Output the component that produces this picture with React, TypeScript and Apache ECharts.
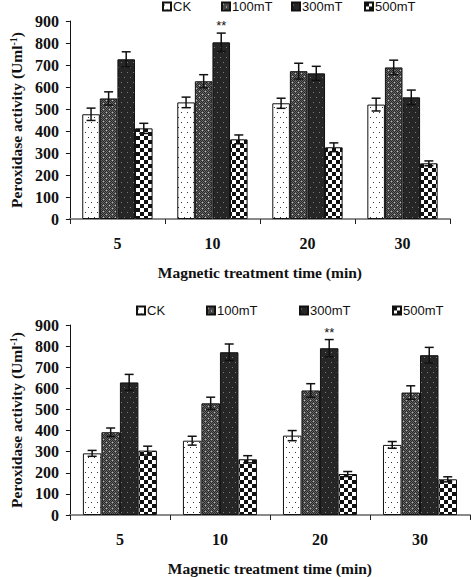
import React, { useEffect, useRef } from "react";
import * as echarts from "echarts";

const categories = ["5", "10", "20", "30"];
const seriesNames = ["CK", "100mT", "300mT", "500mT"];

// Top chart values
const top_CK = [476, 530, 526, 520];
const top_100 = [548, 626, 672, 689];
const top_300 = [726, 803, 662, 553];
const top_500 = [412, 362, 326, 253];
const topErr_CK = [28, 24, 23, 29];
const topErr_100 = [30, 30, 36, 33];
const topErr_300 = [34, 42, 32, 33];
const topErr_500 = [23, 20, 20, 11];
const topSig_300 = ["", "**", "", ""];

// Bottom chart values
const bot_CK = [292, 352, 376, 332];
const bot_100 = [392, 529, 590, 580];
const bot_300 = [628, 771, 790, 757];
const bot_500 = [305, 264, 194, 169];
const botErr_CK = [14, 21, 24, 16];
const botErr_100 = [20, 29, 32, 32];
const botErr_300 = [38, 39, 41, 37];
const botErr_500 = [21, 17, 12, 12];
const botSig_300 = ["", "", "**", ""];

const SERIF = "'Liberation Serif', 'Times New Roman', serif";
const SANS = "'Liberation Sans', Arial, sans-serif";
const GAP = 0.26;

function makeCanvas(w: number, h: number, draw: (ctx: CanvasRenderingContext2D) => void) {
  const c = document.createElement("canvas");
  c.width = w;
  c.height = h;
  const ctx = c.getContext("2d")!;
  draw(ctx);
  return c;
}

function makePatterns() {
  const ck = makeCanvas(6, 10, (ctx) => {
    ctx.fillStyle = "#ffffff";
    ctx.fillRect(0, 0, 6, 10);
    ctx.fillStyle = "#333333";
    ctx.fillRect(1, 2, 1, 1);
    ctx.fillRect(4, 7, 1, 1);
  });
  const p100 = makeCanvas(6, 6, (ctx) => {
    for (let y = 0; y < 6; y++)
      for (let x = 0; x < 6; x++) {
        ctx.fillStyle = (x + y) % 2 === 0 ? "#2a2a2a" : "#646464";
        ctx.fillRect(x, y, 1, 1);
      }
    ctx.fillStyle = "#bdbdbd";
    ctx.fillRect(1, 1, 1, 1);
    ctx.fillRect(4, 4, 1, 1);
  });
  const p300 = makeCanvas(6, 10, (ctx) => {
    ctx.fillStyle = "#262626";
    ctx.fillRect(0, 0, 6, 10);
    ctx.fillStyle = "#7a7a7a";
    ctx.fillRect(1, 2, 1, 1);
    ctx.fillRect(4, 7, 1, 1);
  });
  const p500 = makeCanvas(8, 8, (ctx) => {
    ctx.fillStyle = "#ffffff";
    ctx.fillRect(0, 0, 8, 8);
    ctx.fillStyle = "#111111";
    ctx.fillRect(0, 0, 4, 4);
    ctx.fillRect(4, 4, 4, 4);
  });
  return [ck, p100, p300, p500].map((img) => ({ image: img, repeat: "repeat" as const }));
}

function makeErrRender(seriesIdx: number, sig: string[]) {
  return (params: any, api: any) => {
    const x = api.value(0);
    const v = api.value(1);
    const e = api.value(2);
    const c = api.coord([x, v]);
    const band = api.size([1, 0])[0];
    const barW = (band * (1 - GAP)) / 4;
    const cx = c[0] + (seriesIdx - 1.5) * barW;
    const yTop = api.coord([x, v + e])[1];
    const yBot = api.coord([x, v - e])[1];
    const half = 4.5;
    const st = { stroke: "#111", lineWidth: 1.5 };
    const children: any[] = [
      { type: "line", shape: { x1: cx, y1: yTop, x2: cx, y2: yBot }, style: st },
      { type: "line", shape: { x1: cx - half, y1: yTop, x2: cx + half, y2: yTop }, style: st },
      { type: "line", shape: { x1: cx - half, y1: yBot, x2: cx + half, y2: yBot }, style: st },
    ];
    const s = sig[params.dataIndex];
    if (s) {
      children.push({
        type: "text",
        style: {
          text: s,
          x: cx,
          y: yTop - 1,
          align: "center",
          verticalAlign: "bottom",
          font: `13px ${SANS}`,
          fill: "#111",
        },
      });
    }
    return { type: "group", children };
  };
}

export default function App() {
  const ref = useRef<HTMLDivElement>(null);

  useEffect(() => {
    if (!ref.current) return;
    const chart = echarts.init(ref.current, undefined, { renderer: "svg" });
    const patterns = makePatterns();

    const grids = [
      { left: 64, top: 21, width: 386, height: 198 },
      { left: 65, top: 325, width: 405, height: 190 },
    ];

    const xAxis = grids.map((_, gi) => ({
      type: "category",
      gridIndex: gi,
      data: categories,
      axisLine: { lineStyle: { color: "#8a8a8a", width: 2 } },
      axisTick: { show: true, length: 5, lineStyle: { color: "#222", width: 1 } },
      axisLabel: {
        fontFamily: SERIF,
        fontWeight: "bold",
        fontSize: 16,
        color: "#111",
        margin: 16,
      },
      name: "Magnetic treatment time (min)",
      nameLocation: "middle",
      nameGap: 45,
      nameTextStyle: { fontFamily: SERIF, fontWeight: "bold", fontSize: 15.5, color: "#111" },
    }));

    const yAxis = grids.map((_, gi) => ({
      type: "value",
      gridIndex: gi,
      min: 0,
      max: 900,
      interval: 100,
      axisLine: { show: true, lineStyle: { color: "#111", width: 1 } },
      axisTick: { show: true, length: 4, lineStyle: { color: "#111" } },
      splitLine: { show: false },
      axisLabel: {
        fontFamily: SERIF,
        fontWeight: "bold",
        fontSize: 16,
        color: "#111",
        margin: 11,
      },
      name: "Peroxidase activity (Uml{sup|-1})",
      nameLocation: "middle",
      nameRotate: 90,
      nameGap: 45,
      nameTextStyle: {
        fontFamily: SERIF,
        fontWeight: "bold",
        fontSize: 15.5,
        color: "#111",
        rich: {
          sup: {
            fontFamily: SERIF,
            fontWeight: "bold",
            fontSize: 10,
            color: "#111",
            verticalAlign: "top",
          },
        },
      },
    }));

    const chartData = [
      {
        vals: [top_CK, top_100, top_300, top_500],
        errs: [topErr_CK, topErr_100, topErr_300, topErr_500],
        sigs: [["", "", "", ""], ["", "", "", ""], topSig_300, ["", "", "", ""]],
      },
      {
        vals: [bot_CK, bot_100, bot_300, bot_500],
        errs: [botErr_CK, botErr_100, botErr_300, botErr_500],
        sigs: [["", "", "", ""], ["", "", "", ""], botSig_300, ["", "", "", ""]],
      },
    ];

    const series: any[] = [];
    chartData.forEach((cd, gi) => {
      cd.vals.forEach((vals, si) => {
        series.push({
          type: "bar",
          name: seriesNames[si],
          xAxisIndex: gi,
          yAxisIndex: gi,
          data: vals,
          barGap: "0%",
          barCategoryGap: `${GAP * 100}%`,
          itemStyle: { color: patterns[si], borderColor: "#111", borderWidth: 1 },
          emphasis: { disabled: true },
        });
      });
      cd.vals.forEach((vals, si) => {
        series.push({
          type: "custom",
          name: `err-${gi}-${si}`,
          xAxisIndex: gi,
          yAxisIndex: gi,
          z: 5,
          renderItem: makeErrRender(si, cd.sigs[si]),
          encode: { x: 0, y: 1 },
          data: vals.map((v, i) => [i, v, cd.errs[si][i]]),
        });
      });
    });

    const legendLeftTop = [162, 221, 291, 364];
    const legendLeftBot = [136, 206, 299, 392];
    const legendTops = [0, 304];
    const legend: any[] = [];
    [legendLeftTop, legendLeftBot].forEach((lefts, gi) => {
      seriesNames.forEach((n, i) => {
        legend.push({
          data: [n],
          left: lefts[i],
          top: legendTops[gi],
          icon: "rect",
          itemWidth: 8,
          itemHeight: 8,
          selectedMode: false,
          padding: 0,
          textStyle: { fontFamily: SANS, fontSize: 13, color: "#111", padding: [0, 0, 0, -3] },
        });
      });
    });

    chart.setOption({
      animation: false,
      backgroundColor: "#ffffff",
      grid: grids,
      xAxis,
      yAxis,
      legend,
      series,
    });

    return () => chart.dispose();
  }, []);

  return (
    <div
      ref={ref}
      style={{ position: "fixed", left: 0, top: 0, width: 471, height: 577 }}
    />
  );
}
